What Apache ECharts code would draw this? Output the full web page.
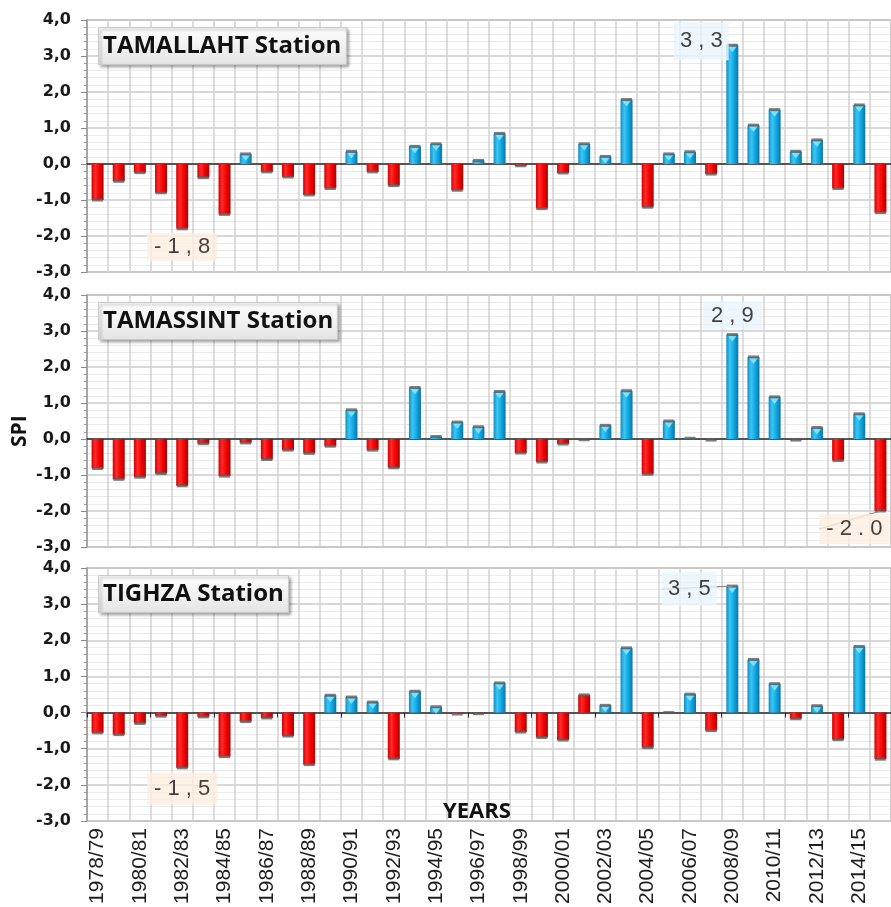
<!DOCTYPE html>
<html>
<head>
<meta charset="utf-8">
<script src="https://cdn.jsdelivr.net/npm/echarts@6/dist/echarts.min.js"></script>
<style>html,body{margin:0;padding:0;background:#fff;}#chart{width:891px;height:907px;}</style>
</head>
<body>
<div id="chart"></div>
<script>
const categories = ['1978/79','1979/80','1980/81','1981/82','1982/83','1983/84','1984/85','1985/86','1986/87','1987/88',
  '1988/89','1989/90','1990/91','1991/92','1992/93','1993/94','1994/95','1995/96','1996/97','1997/98',
  '1998/99','1999/00','2000/01','2001/02','2002/03','2003/04','2004/05','2005/06','2006/07','2007/08',
  '2008/09','2009/10','2010/11','2011/12','2012/13','2013/14','2014/15','2015/16'];

const tamallaht = [-1.0, -0.48, -0.24, -0.80, -1.8, -0.38, -1.4, 0.28, -0.22, -0.36, -0.86, -0.68, 0.35, -0.22, -0.60, 0.49, 0.56, -0.73, 0.10, 0.85,
  -0.05, -1.24, -0.25, 0.56, 0.21, 1.79, -1.2, 0.28, 0.34, -0.28, 3.3, 1.08, 1.51, 0.35, 0.67, -0.68, 1.64, -1.35];
const tamassint = [-0.82, -1.12, -1.06, -0.96, -1.30, -0.13, -1.03, -0.11, -0.57, -0.31, -0.40, -0.20, 0.81, -0.31, -0.80, 1.43, 0.07, 0.47, 0.34, 1.32,
  -0.39, -0.64, -0.14, -0.02, 0.38, 1.34, -0.98, 0.50, 0.02, -0.03, 2.9, 2.28, 1.17, -0.03, 0.32, -0.60, 0.70, -2.0];
const tighza = [-0.56, -0.61, -0.30, -0.10, -1.53, -0.12, -1.22, -0.25, -0.15, -0.65, -1.44, 0.48, 0.43, 0.29, -1.28, 0.59, 0.16, -0.04, -0.03, 0.82,
  -0.54, -0.69, -0.76, 0.49, 0.20, 1.79, -0.97, 0.0, 0.51, -0.50, 3.5, 1.47, 0.80, -0.17, 0.19, -0.75, 1.83, -1.29];

const stationNames = ['TAMALLAHT Station', 'TAMASSINT Station', 'TIGHZA Station'];
const yTicks = [-3, -2, -1, 0, 1, 2, 3, 4];
const annotIdx = [[4, 30], [30, 37], [4, 30]];
const annotText = [['- 1 , 8', '3 , 3'], ['2 , 9', '- 2 . 0'], ['- 1 , 5', '3 , 5']];
const xName = 'YEARS';
const yName = 'SPI';

// ---- styles ----
const stations = [tamallaht, tamassint, tighza];
const redPositive = [[], [], [23]];
const annotOffset = [[[0, 18], [-31, -4]], [[0, -19], [-26, 18]], [[0, 21], [-43, 3]]];
const annotPad = [[[3, 7, 3, 7], [8, 6, 8, 6]], [[3, 8, 3, 8], [4, 7, 4, 7]], [[5, 7, 5, 7], [6, 6, 5, 6]]];
const annotLine = [[false, false], [false, true], [false, true]];
const gridTops = [20, 295, 568];
const gridHeights = [252, 252, 253];
const G = echarts.graphic;
const blueGrad = new G.LinearGradient(0, 0, 1, 0, [
  {offset: 0, color: '#0f8cc2'}, {offset: 0.3, color: '#3cc6f4'}, {offset: 0.65, color: '#10a6e0'}, {offset: 1, color: '#0a74a6'}]);
const redGrad = new G.LinearGradient(0, 0, 1, 0, [
  {offset: 0, color: '#d40000'}, {offset: 0.3, color: '#ff2b2b'}, {offset: 0.65, color: '#f20000'}, {offset: 1, color: '#ad0000'}]);

const grids = [], xAxes = [], yAxes = [], series = [], titles = [];
stations.forEach((vals, g) => {
  grids.push({left: 87, top: gridTops[g], width: 814, height: gridHeights[g], show: true,
    borderColor: '#a3a3a3', borderWidth: 1.5, backgroundColor: '#fff'});
  xAxes.push({type: 'category', gridIndex: g, data: categories,
    axisLine: {onZero: true, lineStyle: {color: '#2a2a2a', width: 1.5}},
    axisTick: {show: g === 2, length: 5, lineStyle: {color: '#2a2a2a'}},
    axisLabel: {show: false},
    splitLine: {show: true, interval: 0, lineStyle: {color: '#d2d2d2', width: 1.5}}});
  yAxes.push({type: 'value', gridIndex: g, min: yTicks[0], max: yTicks[yTicks.length - 1], interval: 1,
    axisLine: {show: true, lineStyle: {color: '#9a9a9a', width: 1.5}},
    axisTick: {show: true, length: 6, lineStyle: {color: '#8a8a8a'}},
    minorTick: {show: true, splitNumber: 5, length: 3, lineStyle: {color: '#9a9a9a'}},
    axisLabel: {formatter: v => v.toFixed(1).replace('.', ','), fontFamily: 'DejaVu Sans', fontWeight: 'bold',
      fontSize: 16, color: '#1a1a1a', margin: 16},
    splitLine: {show: true, lineStyle: {color: '#cdcdcd', width: 1.5}},
    minorSplitLine: {show: true, lineStyle: {color: '#ebebeb', width: 1}}});
  titles.push({text: stationNames[g], left: 98, top: gridTops[g] + 7,
    padding: [4, 5, 4, 5],
    textStyle: {fontFamily: 'Open Sans', fontWeight: 'bold', fontSize: 24, color: '#111', lineHeight: 30},
    backgroundColor: new G.LinearGradient(0, 0, 0, 1, [{offset: 0, color: '#ffffff'}, {offset: 1, color: '#e4e4e4'}]),
    borderColor: '#c9c9c9', borderWidth: 1, shadowBlur: 3, shadowColor: 'rgba(0,0,0,0.35)', shadowOffsetX: 2, shadowOffsetY: 2});

  series.push({type: 'bar', xAxisIndex: g, yAxisIndex: g, barWidth: 12, z: 3,
    data: vals.map((v, i) => ({value: v,
      itemStyle: {color: (v >= 0 && redPositive[g].indexOf(i) < 0) ? blueGrad : redGrad}}))});
  // cylinder cone highlight on positive bars
  series.push({type: 'scatter', xAxisIndex: g, yAxisIndex: g, z: 4, silent: true,
    symbol: 'triangle', symbolRotate: 180, symbolSize: [9, 6], symbolOffset: [0, 4],
    itemStyle: {color: '#8eeeff'},
    data: vals.map((v, i) => (v > 0.12 && redPositive[g].indexOf(i) < 0) ? [i, v] : [i, null])});
  // end caps
  series.push({type: 'scatter', xAxisIndex: g, yAxisIndex: g, z: 5, silent: true,
    symbol: 'rect', symbolSize: [11, 3], itemStyle: {color: '#5c5c5c'},
    data: vals.map((v, i) => [i, v])});
  // annotations
  series.push({type: 'scatter', xAxisIndex: g, yAxisIndex: g, z: 10, silent: true,
    symbolSize: 0,
    data: annotIdx[g].map((idx, k) => ({value: [idx, vals[idx]],
      label: {show: true, formatter: annotText[g][k], position: 'inside',
        fontFamily: 'Liberation Sans', fontSize: 22, color: '#111',
        backgroundColor: vals[idx] >= 0 ? '#e9f5fc' : '#fcefdf', padding: annotPad[g][k]},
      labelLine: {show: annotLine[g][k], lineStyle: {color: '#8a8a8a', width: 1.2}}})),
    labelLayout: p => ({dx: annotOffset[g][p.dataIndex][0], dy: annotOffset[g][p.dataIndex][1]})});
});

// bottom axis carrying the year labels
xAxes.push({type: 'category', gridIndex: 2, data: categories, position: 'bottom',
  axisLine: {show: false, onZero: false}, axisTick: {show: false}, splitLine: {show: false},
  axisLabel: {interval: 1, rotate: 90, fontFamily: 'Liberation Sans', fontSize: 21, color: '#1e1e1e', margin: 7}});

const option = {
  animation: false,
  backgroundColor: '#fff',
  title: titles,
  grid: grids,
  xAxis: xAxes,
  yAxis: yAxes,
  series: series,
  graphic: [
    {type: 'text', left: 443, top: 801, z: 100,
      style: {text: xName, font: 'bold 22px "Open Sans"', fill: '#111'}},
    {type: 'text', x: 10, y: 447, rotation: Math.PI / 2, z: 100,
      style: {text: yName, font: 'bold 21px "Open Sans"', fill: '#111'}}
  ]
};
const chart = echarts.init(document.getElementById('chart'), null, {renderer: 'canvas'});
chart.setOption(option);
</script>
</body>
</html>
